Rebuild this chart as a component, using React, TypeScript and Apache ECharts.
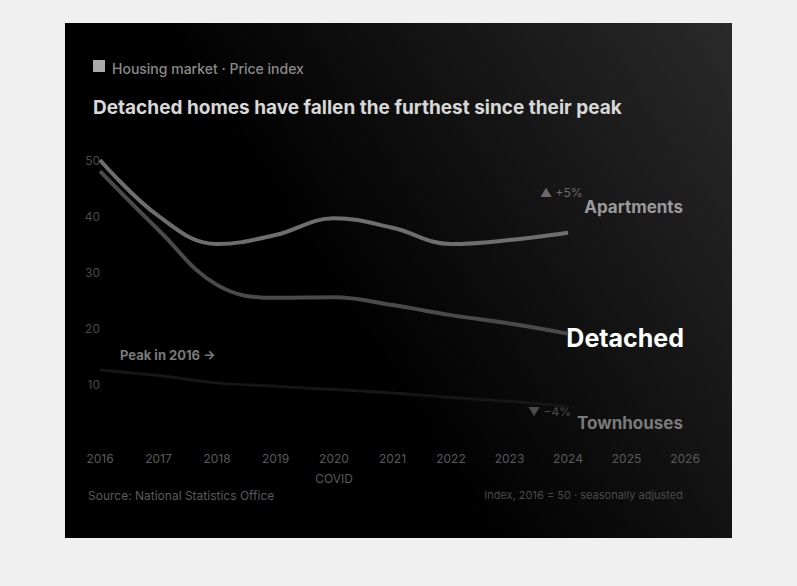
import React, { useEffect, useRef } from "react";
import * as echarts from "echarts";

const categories = ["2016", "2017", "2018", "2019", "2020", "2021", "2022", "2023", "2024", "2025", "2026"];
const xLabels = ["2016", "2017", "2018", "2019", "2020\nCOVID", "2021", "2022", "2023", "2024", "2025", "2026"];
const seriesA = [50, 40, 35, 36.6, 39.6, 37.9, 35, 35.7, 37.0, null, null];
const seriesB = [48, 37.5, 27.7, 25.4, 25.5, 24.1, 22.3, 20.8, 19.0, null, null];
const seriesC = [12.5, 11.5, 10.2, 9.6, 9.0, 8.4, 7.6, 6.9, 6.0, null, null];
const seriesNames = ["Apartments", "Detached", "Townhouses"];
const yTicks = [0, 10, 20, 30, 40, 50];

export default function App() {
  const ref = useRef<HTMLDivElement>(null);
  useEffect(() => {
    if (!ref.current) return;
    const chart = echarts.init(ref.current, null, { renderer: "svg" });
    const font = "Inter, 'Noto Sans', sans-serif";
    chart.setOption({
      animation: false,
      backgroundColor: "#f0f0f0",
      textStyle: { fontFamily: font },
      grid: { left: 100, right: 112, top: 160, bottom: 146 },
      xAxis: {
        type: "category",
        data: categories,
        boundaryGap: false,
        axisLine: { show: false },
        axisTick: { show: false },
        axisLabel: {
          color: "#5a5a5a",
          fontSize: 12,
          margin: 8,
          lineHeight: 20,
          formatter: (_v: string, i: number) => xLabels[i],
        },
      },
      yAxis: {
        type: "value",
        min: yTicks[0],
        max: yTicks[yTicks.length - 1],
        interval: 10,
        axisLine: { show: false },
        axisTick: { show: false },
        splitLine: { show: false },
        axisLabel: {
          color: "#4a4a4a",
          fontSize: 12,
          margin: 0,
          showMinLabel: false,
        },
      },
      graphic: [
        {
          type: "rect",
          z: -10,
          silent: true,
          shape: { x: 65, y: 23, width: 667, height: 515 },
          style: {
            fill: new echarts.graphic.LinearGradient(1, 0, 0.3, 0.35, [
              { offset: 0, color: "#2a2a2a" },
              { offset: 1, color: "#000000" },
            ]),
          },
        },
        {
          type: "rect",
          shape: { x: 93, y: 60, width: 12, height: 12 },
          style: { fill: "#aaaaaa" },
        },
        {
          type: "text",
          x: 112,
          y: 68,
          style: {
            text: "Housing market · Price index",
            fill: "#8a8a8a",
            font: `500 14px ${font}`,
            verticalAlign: "middle",
          },
        },
        {
          type: "text",
          x: 93,
          y: 107,
          style: {
            text: "Detached homes have fallen the furthest since their peak",
            fill: "#d8d8d8",
            font: `bold 19px ${font}`,
            verticalAlign: "middle",
          },
        },
        {
          type: "text",
          x: 540,
          y: 192,
          style: {
            text: "▲ +5%",
            fill: "#6a6a6a",
            font: `12px ${font}`,
            verticalAlign: "middle",
          },
        },
        {
          type: "text",
          x: 683,
          y: 207,
          style: {
            text: seriesNames[0],
            fill: "#9a9a9a",
            font: `bold 17px ${font}`,
            align: "right",
            verticalAlign: "middle",
          },
        },
        {
          type: "text",
          x: 684,
          y: 338,
          style: {
            text: seriesNames[1],
            fill: "#ffffff",
            font: `bold 25px ${font}`,
            align: "right",
            verticalAlign: "middle",
          },
        },
        {
          type: "text",
          x: 528,
          y: 411,
          style: {
            text: "▼ −4%",
            fill: "#4a4a4a",
            font: `12px ${font}`,
            verticalAlign: "middle",
          },
        },
        {
          type: "text",
          x: 683,
          y: 423,
          style: {
            text: seriesNames[2],
            fill: "#7a7a7a",
            font: `bold 17px ${font}`,
            align: "right",
            verticalAlign: "middle",
          },
        },
        {
          type: "text",
          x: 120,
          y: 355,
          style: {
            text: "Peak in 2016 →",
            fill: "#7a7a7a",
            font: `bold 13px ${font}`,
            verticalAlign: "middle",
          },
        },
        {
          type: "text",
          x: 88,
          y: 495,
          style: {
            text: "Source: National Statistics Office",
            fill: "#5a5a5a",
            font: `12px ${font}`,
            verticalAlign: "middle",
          },
        },
        {
          type: "text",
          x: 683,
          y: 495,
          style: {
            text: "Index, 2016 = 50 · seasonally adjusted",
            fill: "#4a4a4a",
            font: `11px ${font}`,
            align: "right",
            verticalAlign: "middle",
          },
        },
      ],
      series: [
        {
          name: seriesNames[0],
          type: "line",
          data: seriesA,
          smooth: 0.4,
          symbol: "none",
          lineStyle: { color: "#6e6e6e", width: 4 },
          z: 3,
        },
        {
          name: seriesNames[1],
          type: "line",
          data: seriesB,
          smooth: 0.4,
          symbol: "none",
          lineStyle: { color: "#4a4a4a", width: 4 },
          z: 2,
        },
        {
          name: seriesNames[2],
          type: "line",
          data: seriesC,
          smooth: 0.4,
          symbol: "none",
          lineStyle: { color: "#161616", width: 3 },
          z: 1,
        },
      ],
    });
    return () => chart.dispose();
  }, []);
  return (
    <div
      ref={ref}
      style={{ position: "fixed", left: 0, top: 0, width: 797, height: 586 }}
    />
  );
}
